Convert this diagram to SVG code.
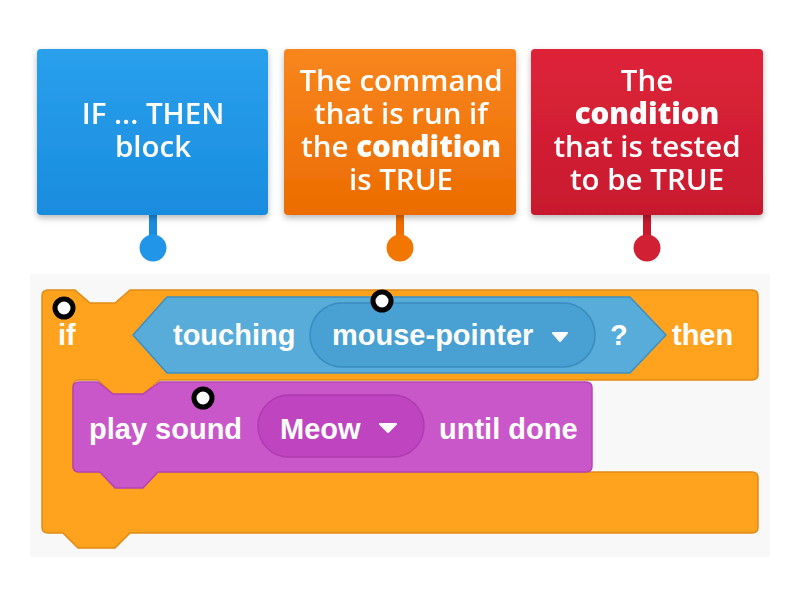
<svg xmlns="http://www.w3.org/2000/svg" width="800" height="600" viewBox="0 0 800 600">
  <defs>
    <linearGradient id="gBlue" x1="0" y1="0" x2="0" y2="1">
      <stop offset="0" stop-color="#2AA0EC"/>
      <stop offset="1" stop-color="#198CDF"/>
    </linearGradient>
    <linearGradient id="gOrange" x1="0" y1="0" x2="0" y2="1">
      <stop offset="0" stop-color="#F8861E"/>
      <stop offset="1" stop-color="#EC6C00"/>
    </linearGradient>
    <linearGradient id="gRed" x1="0" y1="0" x2="0" y2="1">
      <stop offset="0" stop-color="#DE2439"/>
      <stop offset="1" stop-color="#C7192E"/>
    </linearGradient>
    <filter id="shadow" x="-10%" y="-10%" width="120%" height="130%">
      <feDropShadow dx="0" dy="3" stdDeviation="3" flood-color="#000" flood-opacity="0.28"/>
    </filter>
    <style>
      .lbl { font-family: "Open Sans", "Noto Sans", sans-serif; font-size: 29.5px; font-weight: 600; fill: #FFFFFF; text-anchor: middle; }
      .lbl tspan.b { font-weight: 800; }
      .blk { font-family: "Liberation Sans", Arial, sans-serif; font-size: 29px; font-weight: bold; fill: #FFFFFF; }
      .tri { fill: #FFFFFF; stroke: #FFFFFF; stroke-width: 2; stroke-linejoin: round; }
      .dot { fill: #FFFFFF; stroke: #000000; stroke-width: 5; }
    </style>
  </defs>

  <rect x="0" y="0" width="800" height="600" fill="#FFFFFF"/>
  <rect x="30" y="274" width="740" height="283" fill="#F8F8F8"/>

  <!-- Scratch blocks -->
  <g id="if-block">
    <path d="M 48,290 H 75 L 90,303 H 115 L 130,290 H 752 Q 758,290 758,296 V 374 Q 758,380 752,380 H 160 L 143,394 H 113 L 98,380 H 79 Q 73,380 73,386 V 466 Q 73,472 79,472 H 752 Q 758,472 758,478 V 527 Q 758,533 752,533 H 130 L 115,548 H 78 L 63,533 H 48 Q 42,533 42,527 V 296 Q 42,290 48,290 Z" fill="#FFA21E" stroke="#DE8A14" stroke-width="1.5" stroke-linejoin="round"/>
    <text class="blk" x="58" y="345">if</text>
    <text class="blk" x="672" y="345">then</text>
  </g>

  <g id="touching-block">
    <polygon points="133,335 167,297 630,297 666,335 630,373 167,373" fill="#57ACDA" stroke="#3C90C2" stroke-width="1.5" stroke-linejoin="round"/>
    <text class="blk" x="173" y="345">touching</text>
    <rect x="310" y="303" width="285" height="64" rx="32" fill="#48A1D2" stroke="#3A8CBF" stroke-width="1.5"/>
    <text class="blk" x="332" y="345">mouse-pointer</text>
    <polygon class="tri" points="553,333 567,333 560,341"/>
    <text class="blk" x="610" y="345">?</text>
  </g>

  <g id="play-sound-block">
    <path d="M 79,382 H 98 L 113,394 H 143 L 160,382 H 586 Q 592,382 592,388 V 466 Q 592,472 586,472 H 158 L 143,488 H 115 L 100,472 H 79 Q 73,472 73,466 V 388 Q 73,382 79,382 Z" fill="#C957C9" stroke="#B444B4" stroke-width="1.5" stroke-linejoin="round"/>
    <text class="blk" x="89" y="439">play sound</text>
    <rect x="258" y="395" width="166" height="62" rx="31" fill="#BF45C0" stroke="#AE3BAF" stroke-width="1.5"/>
    <text class="blk" x="280" y="439">Meow</text>
    <polygon class="tri" points="380,424 396,424 388,432"/>
    <text class="blk" x="439" y="439">until done</text>
  </g>

  <!-- Markers on the blocks -->
  <g id="markers">
    <circle class="dot" cx="64" cy="308" r="9"/>
    <circle class="dot" cx="382" cy="301" r="9"/>
    <circle class="dot" cx="203" cy="398" r="9"/>
  </g>

  <!-- Connectors (stems with end dots) -->
  <g id="connectors">
    <rect x="149" y="212" width="8" height="30" fill="#1B8DDF"/>
    <circle cx="153" cy="248" r="13.5" fill="#2196E9"/>
    <rect x="396" y="212" width="8" height="30" fill="#EE6E00"/>
    <circle cx="400" cy="248" r="13.5" fill="#F27700"/>
    <rect x="643" y="212" width="8" height="30" fill="#C7192E"/>
    <circle cx="647" cy="248" r="13.5" fill="#D11F34"/>
  </g>

  <g id="label-if-then" filter="url(#shadow)">
    <rect x="37" y="49" width="231" height="166" rx="4" fill="url(#gBlue)"/>
    <text class="lbl" x="153" y="124">IF ... THEN<tspan x="153" dy="33">block</tspan></text>
  </g>

  <g id="label-command" filter="url(#shadow)">
    <rect x="284" y="49" width="232" height="166" rx="4" fill="url(#gOrange)"/>
    <text class="lbl" x="401" y="91">The command<tspan x="401" dy="33">that is run if</tspan><tspan x="401" dy="33">the <tspan class="b">condition</tspan></tspan><tspan x="401" dy="33">is TRUE</tspan></text>
  </g>

  <g id="label-condition" filter="url(#shadow)">
    <rect x="531" y="49" width="232" height="166" rx="4" fill="url(#gRed)"/>
    <text class="lbl" x="647" y="91">The<tspan x="647" dy="33" class="b">condition</tspan><tspan x="647" dy="33">that is tested</tspan><tspan x="647" dy="33">to be TRUE</tspan></text>
  </g>
</svg>
